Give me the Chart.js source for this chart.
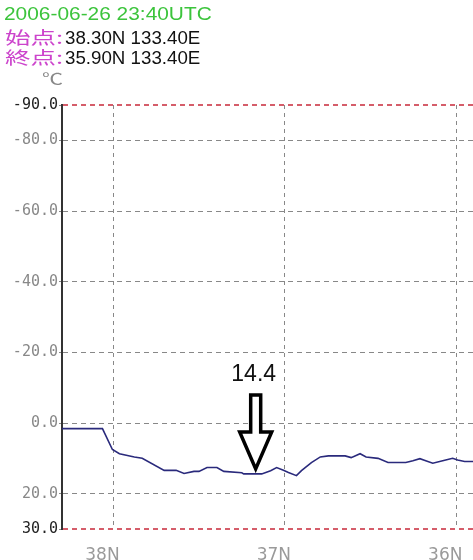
<!DOCTYPE html>
<html>
<head>
<meta charset="utf-8">
<script src="https://cdn.jsdelivr.net/npm/chart.js@4.4.1/dist/chart.umd.min.js"></script>
<style>
  html, body { margin: 0; padding: 0; background: #fff; overflow: hidden; }
  #wrap { position: relative; width: 490px; height: 560px; }
  .lbl { position: absolute; white-space: nowrap; line-height: 1; transform-origin: 0 0;
         font-family: "Liberation Sans", Arial, sans-serif; font-size: 18px; color: #111; }
  .jp { font-family: "Noto Sans CJK JP", sans-serif; font-size: 17px; color: #cc44cc; }
</style>
</head>
<body>
<div id="wrap">
  <canvas id="myChart"></canvas>
  <span class="lbl" id="dateLbl" style="left:4px;top:5px;color:#3cc43c;transform:scaleX(1.16)"></span>
  <span class="lbl jp" id="startLbl" style="left:5px;top:28px;transform:scaleX(1.5)"></span>
  <span class="lbl" id="startPos" style="left:65px;top:29px;transform:scaleX(1.04)"></span>
  <span class="lbl jp" id="endLbl" style="left:5px;top:48px;transform:scaleX(1.5)"></span>
  <span class="lbl" id="endPos" style="left:65px;top:49px;transform:scaleX(1.04)"></span>
  <span class="lbl jp" id="unitLbl" style="left:42px;top:70px;font-size:15px;color:#888;transform:scaleX(1.4)"></span>
</div>
<script>
// latitude along the section (N) and temperature (deg C)
const lats = [38.30, 38.064, 38.006, 37.965, 37.878, 37.832, 37.704, 37.634, 37.588, 37.530,
              37.501, 37.454, 37.396, 37.356, 37.251, 37.240, 37.135, 37.083, 37.048, 37.008,
              36.979, 36.932, 36.903, 36.845, 36.793, 36.746, 36.648, 36.613, 36.561, 36.526,
              36.456, 36.398, 36.294, 36.253, 36.212, 36.178, 36.137, 36.079, 36.021, 35.992,
              35.951, 35.90];
const temps = [1.6, 1.6, 7.5, 8.7, 9.6, 10.0, 13.4, 13.4, 14.3, 13.7,
               13.7, 12.6, 12.6, 13.7, 14.1, 14.4, 14.4, 13.5, 12.6, 13.4,
               14.0, 14.9, 13.5, 11.2, 9.6, 9.3, 9.3, 9.8, 8.7, 9.6,
               10.0, 11.2, 11.2, 10.7, 10.1, 10.7, 11.4, 10.7, 10.0, 10.5,
               10.9, 10.9];
const yTicks = [-90, -80, -60, -40, -20, 0, 20, 30];
const xTicks = [38, 37, 36];
const markLat = 37.17;
const markValue = 14.4;

const dateText = '2006-06-26 23:40UTC';
const startLabel = '始点:';
const startPos = '38.30N 133.40E';
const endLabel = '終点:';
const endPos = '35.90N 133.40E';
const unitText = '℃';

document.getElementById('dateLbl').textContent = dateText;
document.getElementById('startLbl').textContent = startLabel;
document.getElementById('startPos').textContent = startPos;
document.getElementById('endLbl').textContent = endLabel;
document.getElementById('endPos').textContent = endPos;
document.getElementById('unitLbl').textContent = unitText;

function isEdge(v) {
    return v === yTicks[0] || v === yTicks[yTicks.length - 1];
}

// hollow arrow pointing at the marked value
const arrowMark = {
    id: 'arrowMark',
    afterDatasetsDraw(chart) {
        const ctx = chart.ctx;
        const px = chart.scales.x.getPixelForValue(markLat);
        const tip = chart.scales.y.getPixelForValue(markValue) - 5;
        ctx.save();
        ctx.beginPath();
        ctx.moveTo(px - 5, tip - 74);
        ctx.lineTo(px + 5, tip - 74);
        ctx.lineTo(px + 5, tip - 37);
        ctx.lineTo(px + 16, tip - 37);
        ctx.lineTo(px, tip);
        ctx.lineTo(px - 16, tip - 37);
        ctx.lineTo(px - 5, tip - 37);
        ctx.closePath();
        ctx.fillStyle = '#fff';
        ctx.fill();
        ctx.lineWidth = 3.5;
        ctx.strokeStyle = '#000';
        ctx.stroke();
        ctx.font = '23px "Liberation Sans", Arial, sans-serif';
        ctx.fillStyle = '#111';
        ctx.textAlign = 'center';
        ctx.fillText(markValue.toFixed(1), px - 2, tip - 88);
        ctx.restore();
    }
};

// red dashed lines at the top and bottom of the range
const edgeLines = {
    id: 'edgeLines',
    afterDraw(chart) {
        const ctx = chart.ctx;
        const a = chart.chartArea;
        const y = chart.scales.y;
        ctx.save();
        ctx.strokeStyle = '#c8283a';
        ctx.lineWidth = 1.5;
        ctx.setLineDash([5, 4]);
        [yTicks[0], yTicks[yTicks.length - 1]].forEach(function(v) {
            const py = Math.round(y.getPixelForValue(v));
            ctx.beginPath();
            ctx.moveTo(a.left + 1, py);
            ctx.lineTo(a.right, py);
            ctx.stroke();
        });
        ctx.restore();
    }
};

const points = lats.map(function(v, i) { return {x: v, y: temps[i]}; });

const myChart = new Chart(document.getElementById('myChart'), {
    type: 'line',
    data: {
        datasets: [{
            data: points,
            borderColor: '#2a2a7c',
            borderWidth: 1.6,
            pointRadius: 0,
            tension: 0,
            fill: false
        }]
    },
    options: {
        animation: false,
        responsive: true,
        maintainAspectRatio: false,
        layout: { padding: { top: 105, right: 14, left: 0, bottom: 0 } },
        plugins: { legend: { display: false }, tooltip: { enabled: false } },
        scales: {
            x: {
                type: 'linear',
                reverse: true,
                min: 35.9,
                max: 38.3,
                afterBuildTicks: function(s) { s.ticks = xTicks.map(function(v) { return {value: v}; }); },
                afterFit: function(s) { s.height = 31; },
                grid: { color: '#888', lineWidth: 1, drawTicks: false },
                border: { display: false, dash: [4, 4] },
                ticks: {
                    color: '#9a9a9a',
                    font: { family: '"DejaVu Sans"', size: 17 },
                    padding: 16,
                    labelOffset: -11,
                    maxRotation: 0,
                    autoSkip: false,
                    callback: function(v) { return v + 'N'; }
                }
            },
            y: {
                type: 'linear',
                reverse: true,
                min: -90,
                max: 30,
                afterBuildTicks: function(s) { s.ticks = yTicks.map(function(v) { return {value: v}; }); },
                afterFit: function(s) { s.width = 62; },
                grid: {
                    color: function(c) { return (c.tick && isEdge(c.tick.value)) ? 'rgba(0,0,0,0)' : '#888'; },
                    lineWidth: 1,
                    tickLength: 3,
                    tickColor: '#888'
                },
                border: { display: true, color: '#333', width: 2, dash: [5, 4] },
                ticks: {
                    color: function(c) { return (c.tick && isEdge(c.tick.value)) ? '#222' : '#888'; },
                    font: { family: '"DejaVu Sans Mono"', size: 15 },
                    padding: 1,
                    autoSkip: false,
                    callback: function(v) { return v.toFixed(1); }
                }
            }
        }
    },
    plugins: [edgeLines, arrowMark]
});
</script>
</body>
</html>
